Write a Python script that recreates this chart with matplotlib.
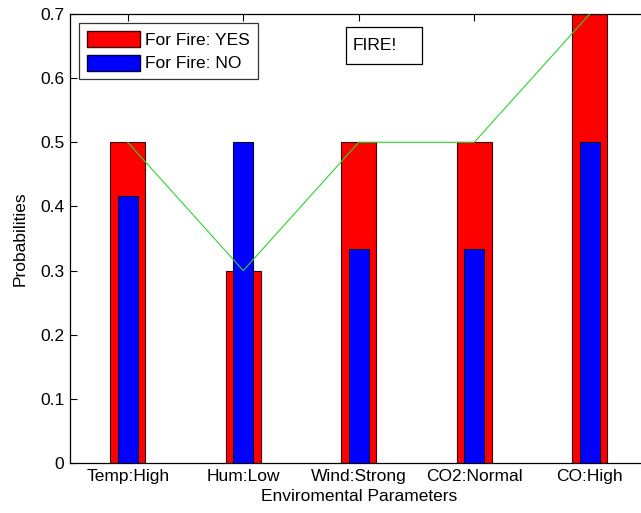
import numpy as np
import matplotlib
matplotlib.use('Agg')
import matplotlib.pyplot as plt
from matplotlib.patches import Patch, Rectangle
from matplotlib.ticker import FormatStrFormatter

plt.rcParams['font.family'] = ['Liberation Sans', 'DejaVu Sans']

# data
params = ['Temp:High', 'Hum:Low', 'Wind:Strong', 'CO2:Normal', 'CO:High']
p_yes = [0.5, 0.3, 0.5, 0.5, 0.7]
p_no = [5/12, 0.5, 1/3, 1/3, 0.5]

x = np.arange(1, len(params) + 1)
fs = 12.5

fig = plt.figure(figsize=(6.41, 5.13), dpi=100)
# right edge of the axes runs just past the figure, as in the original
ax = fig.add_axes([70/641, 1 - 463/513, 577.5/641, (463 - 14)/513])

ax.bar(x, p_yes, width=0.30, color='#ff0000', edgecolor='#400000', linewidth=0.8, zorder=2)
ax.bar(x, p_no, width=0.17, color='#0000ff', edgecolor='#000040', linewidth=0.8, zorder=3)
ax.plot(x, p_yes, color='#2ad62a', linewidth=0.8, zorder=4)

ax.set_xlim(0.5, 5.5)
ax.set_ylim(0, 0.7)
ax.set_xticks(x)
ax.set_xticklabels(params)
ax.set_yticks(np.arange(0, 0.71, 0.1))
ax.yaxis.set_major_formatter(FormatStrFormatter('%g'))
ax.tick_params(direction='in', top=True, right=True, length=5, labelsize=fs, width=0.8, pad=4)
for s in ax.spines.values():
    s.set_linewidth(0.9)

ax.set_xlabel('Enviromental Parameters', fontsize=fs, labelpad=4)
ax.set_ylabel('Probabilities', fontsize=fs, labelpad=9)

handles = [Patch(facecolor='#ff0000', edgecolor='#400000', label='For Fire: YES'),
           Patch(facecolor='#0000ff', edgecolor='#000040', label='For Fire: NO')]
leg = ax.legend(handles=handles, loc='upper left', bbox_to_anchor=(9/577.5, 1 - 9/449),
                fontsize=fs, frameon=True, fancybox=False, edgecolor='black',
                handlelength=3.05, handleheight=1.03, handletextpad=0.3,
                borderpad=0.45, labelspacing=0.4, borderaxespad=0)
leg.get_frame().set_linewidth(0.9)

# "FIRE!" annotation box, in figure pixels
fig.add_artist(Rectangle((346/641, 1 - 64/513), 76/641, 37/513, transform=fig.transFigure,
                         facecolor='white', edgecolor='black', linewidth=0.9, zorder=5))
fig.text(353/641, 1 - 46/513, 'FIRE!', fontsize=fs, va='center', ha='left', zorder=6)

fig.savefig('out.png', dpi=100)
